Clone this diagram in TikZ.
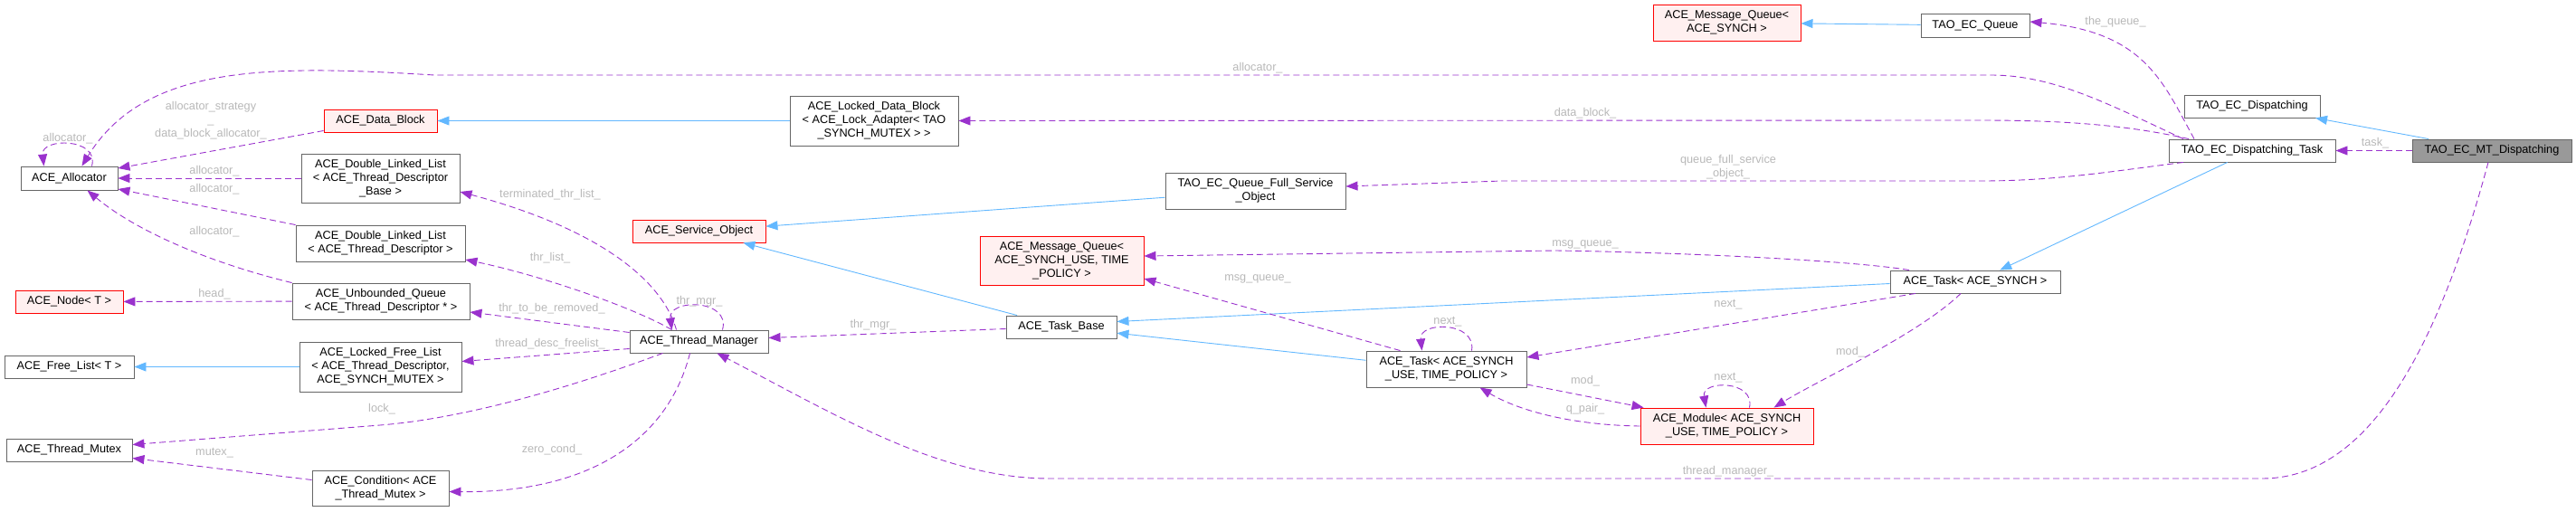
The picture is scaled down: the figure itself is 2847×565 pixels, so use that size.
\documentclass[tikz,border=0pt]{standalone}
\usepackage{fontspec}
\setmainfont{Liberation Sans}
\usepackage{tikz}
\usetikzlibrary{arrows.meta,calc}
\definecolor{edgeblue}{HTML}{63B8FF}
\definecolor{edgepurple}{HTML}{9A32CD}
\definecolor{boxgray}{HTML}{666666}
\definecolor{lblgray}{HTML}{B8B8B8}
\definecolor{hotfill}{HTML}{FFF0F0}
\definecolor{mainfill}{HTML}{999999}
\newcommand{\dfont}{\fontsize{12.7}{15}\selectfont}
\tikzset{
  cls/.style={draw=boxgray, fill=white, line width=0.9pt, inner sep=0pt, align=center, font=\dfont},
  hot/.style={cls, draw=red, fill=hotfill},
  mainc/.style={cls, fill=mainfill},
  sz/.style 2 args={minimum width=#1pt, minimum height=#2pt},
  inh/.style={-{Triangle[length=13pt,width=10pt]}, edgeblue, line width=0.9pt},
  use/.style={-{Triangle[length=13pt,width=10pt]}, edgepurple, line width=0.9pt, dash pattern=on 7pt off 4pt},
  lbl/.style={font=\dfont, text=lblgray, inner sep=0pt, align=center},
}

\begin{document}
\begin{tikzpicture}[x=1pt, y=-1pt]
\useasboundingbox (0,0) rectangle (2847,565);

% --- Classes ---
\node[cls, sz={107}{26}] (alloc) at (76.5,197) {ACE\_Allocator};
\node[hot, sz={125}{25}] (dblock) at (420.5,133.5) {ACE\_Data\_Block};
\node[cls, sz={175}{54}] (dllbase) at (420.5,197) {ACE\_Double\_Linked\_List\\< ACE\_Thread\_Descriptor\\\_Base >};
\node[cls, sz={187}{40}] (dlltd) at (420.5,269) {ACE\_Double\_Linked\_List\\< ACE\_Thread\_Descriptor >};
\node[cls, sz={196}{40}] (uqueue) at (421,333) {ACE\_Unbounded\_Queue\\< ACE\_Thread\_Descriptor * >};
\node[hot, sz={119}{25}] (anode) at (76.5,333.5) {ACE\_Node< T >};
\node[cls, sz={143}{25}] (flist) at (76.5,405.5) {ACE\_Free\_List< T >};
\node[cls, sz={179}{55}] (lflist) at (420.5,405.5) {ACE\_Locked\_Free\_List\\< ACE\_Thread\_Descriptor,\\ACE\_SYNCH\_MUTEX >};
\node[cls, sz={139}{25}] (tmutex) at (76.5,497.5) {ACE\_Thread\_Mutex};
\node[cls, sz={151}{39}] (cond) at (420.5,539.5) {ACE\_Condition< ACE\\\_Thread\_Mutex >};
\node[cls, sz={186}{55}] (ldblock) at (966,133.5) {ACE\_Locked\_Data\_Block\\< ACE\_Lock\_Adapter< TAO\\\_SYNCH\_MUTEX > >};
\node[hot, sz={147}{25}] (svcobj) at (772.5,255.5) {ACE\_Service\_Object};
\node[cls, sz={153}{25}] (tmgr) at (772.5,377.5) {ACE\_Thread\_Manager};
\node[cls, sz={199}{40}] (qfull) at (1387.5,211) {TAO\_EC\_Queue\_Full\_Service\\\_Object};
\node[hot, sz={181}{54}] (mqsu) at (1173.5,288) {ACE\_Message\_Queue<\\ACE\_SYNCH\_USE, TIME\\\_POLICY >};
\node[cls, sz={122}{25}] (tbase) at (1173,361.5) {ACE\_Task\_Base};
\node[hot, sz={163}{40}] (mqs) at (1908.5,25) {ACE\_Message\_Queue<\\ACE\_SYNCH >};
\node[cls, sz={177}{40}] (tasksu) at (1598.5,408) {ACE\_Task< ACE\_SYNCH\\\_USE, TIME\_POLICY >};
\node[hot, sz={191}{40}] (module) at (1908.5,471) {ACE\_Module< ACE\_SYNCH\\\_USE, TIME\_POLICY >};
\node[cls, sz={120}{26}] (ecq) at (2183,28) {TAO\_EC\_Queue};
\node[cls, sz={150}{25}] (ecd) at (2489,117.5) {TAO\_EC\_Dispatching};
\node[cls, sz={184}{25}] (ecdt) at (2489,166.5) {TAO\_EC\_Dispatching\_Task};
\node[cls, sz={188}{25}] (tasks) at (2183,311.5) {ACE\_Task< ACE\_SYNCH >};
\node[mainc, sz={176}{25}] (mtd) at (2754,166.5) {TAO\_EC\_MT\_Dispatching};

% --- Inheritance ---
\draw[inh] (mtd) -- (ecd);
\draw[inh] (ecdt) -- (tasks);
\draw[inh] ([yshift=-2pt]tasks.west) -- ([yshift=6pt]tbase.east);
\draw[inh] (tasksu) -- (tbase);
\draw[inh] (tbase) -- (svcobj);
\draw[inh] (qfull) -- (svcobj);
\draw[inh] (ldblock) -- (dblock);
\draw[inh] (ecq) -- (mqs);
\draw[inh] (lflist) -- (flist);

% --- Members of the dispatching classes ---
\draw[use] (mtd) -- (ecdt) node[lbl] at (2625,158) {task\_};
\draw[use] ([xshift=-4pt]mtd.south) .. controls (2693,390) and (2616,529) .. (2500,529)
  -- (1160,529) .. controls (1040,529) and (926,460) .. ([xshift=20pt]tmgr.south)
  node[lbl] at (1910,521) {thread\_manager\_};
\draw[use] ([xshift=-64pt]ecdt.north) .. controls (2390,90) and (2370,35) .. ([yshift=4pt]ecq.east)
  node[lbl] at (2338,24) {the\_queue\_};
\draw[use] ([xshift=-76pt]ecdt.north) .. controls (2330,115) and (2270,83) .. (2200,83)
  -- (480,83) .. controls (300,72) and (160,70) .. ([xshift=14pt]alloc.north)
  node[lbl] at (1390,75) {allocator\_};
\draw[use] ([xshift=-70pt]ecdt.north) .. controls (2350,138) and (2280,133) .. (2190,133)
  -- (ldblock.east) node[lbl] at (1752,125) {data\_block\_};
\draw[use] ([xshift=-76pt]ecdt.south) .. controls (2330,190) and (2270,200) .. (2190,200)
  -- (1660,200) -- ([yshift=5pt]qfull.east)
  node[lbl] at (1910,185) {queue\_full\_service\\\_object\_};

% --- Members of the tasks and modules ---
\draw[use] ([xshift=-73pt]tasks.north) .. controls (2060,290) and (1900,280) .. (1720,277)
  -- ([yshift=5pt]mqsu.east) node[lbl] at (1752,270) {msg\_queue\_};
\draw[use] ([xshift=-66pt]tasks.south) -- ([yshift=13pt]tasksu.east) node[lbl] at (1910,337) {next\_};
\draw[use] ([xshift=-16pt]tasks.south) .. controls (2120,370) and (2010,420) .. ([xshift=52pt]module.north)
  node[lbl] at (2045,389) {mod\_};
\draw[use] ([yshift=-17pt]tasksu.east) -- ([xshift=4pt]module.north west) node[lbl] at (1752,421) {mod\_};
\draw[use] (module.west) .. controls (1740,470) and (1680,455) .. ([xshift=37pt]tasksu.south)
  node[lbl] at (1752,452) {q\_pair\_};
\draw[use] ([xshift=25pt]module.north) .. controls (1940,420) and (1880,420) .. ([xshift=-23pt]module.north)
  node[lbl] at (1910,418) {next\_};
\draw[use] ([xshift=28pt]tasksu.north) .. controls (1632,355) and (1568,355) .. ([xshift=-27pt]tasksu.north)
  node[lbl] at (1600,356) {next\_};
\draw[use] ([xshift=-51pt]tasksu.north) -- ([yshift=-20pt]mqsu.east) node[lbl] at (1390,308) {msg\_queue\_};
\draw[use] ([yshift=-2pt]tbase.west) -- ([yshift=4pt]tmgr.east) node[lbl] at (965,359) {thr\_mgr\_};

% --- Members of the thread manager ---
\draw[use] ([xshift=26pt]tmgr.north) .. controls (808,330) and (738,330) .. ([xshift=-30pt]tmgr.north)
  node[lbl] at (773,333) {thr\_mgr\_};
\draw[use] ([xshift=-25pt]tmgr.north) .. controls (735,320) and (680,258) .. ([yshift=-15pt]dllbase.east)
  node[lbl] at (608,215) {terminated\_thr\_list\_};
\draw[use] ([xshift=-30pt]tmgr.north) .. controls (700,340) and (600,305) .. ([yshift=-18pt]dlltd.east)
  node[lbl] at (608,285) {thr\_list\_};
\draw[use] ([yshift=10pt]tmgr.west) -- ([yshift=-12pt]uqueue.east) node[lbl] at (610,341) {thr\_to\_be\_removed\_};
\draw[use] ([yshift=-8pt]tmgr.west) -- ([yshift=6pt]lflist.east) node[lbl] at (608,380) {thread\_desc\_freelist\_};
\draw[use] ([xshift=-40pt]tmgr.south) .. controls (640,425) and (520,462) .. (420,470)
  -- ([yshift=6pt]tmutex.east) node[lbl] at (422,452) {lock\_};
\draw[use] ([xshift=-10pt]tmgr.south) .. controls (740,480) and (660,545) .. ([yshift=-4pt]cond.east)
  node[lbl] at (610,497) {zero\_cond\_};

% --- Members of the containers ---
\draw[use] ([yshift=9pt]cond.west) -- ([yshift=-9pt]tmutex.east) node[lbl] at (237,501) {mutex\_};
\draw[use] (uqueue) -- (anode) node[lbl] at (237,325) {head\_};
\draw[use] (dllbase) -- (alloc) node[lbl] at (237,189) {allocator\_};
\draw[use] (dlltd.north west) -- ([yshift=-12pt]alloc.east) node[lbl] at (237,209) {allocator\_};
\draw[use] (uqueue.north west) .. controls (230,290) and (150,255) .. ([xshift=20pt]alloc.south)
  node[lbl] at (237,256) {allocator\_};
\draw[use] ([yshift=-11pt]dblock.west) -- ([yshift=11pt]alloc.east)
  node[lbl] at (233,133) {allocator\_strategy\\\_\\data\_block\_allocator\_};
\draw[use] ([xshift=25pt]alloc.north) .. controls (110,152) and (45,152) .. ([xshift=-28pt]alloc.north)
  node[lbl] at (75,153) {allocator\_};

\end{tikzpicture}
\end{document}
